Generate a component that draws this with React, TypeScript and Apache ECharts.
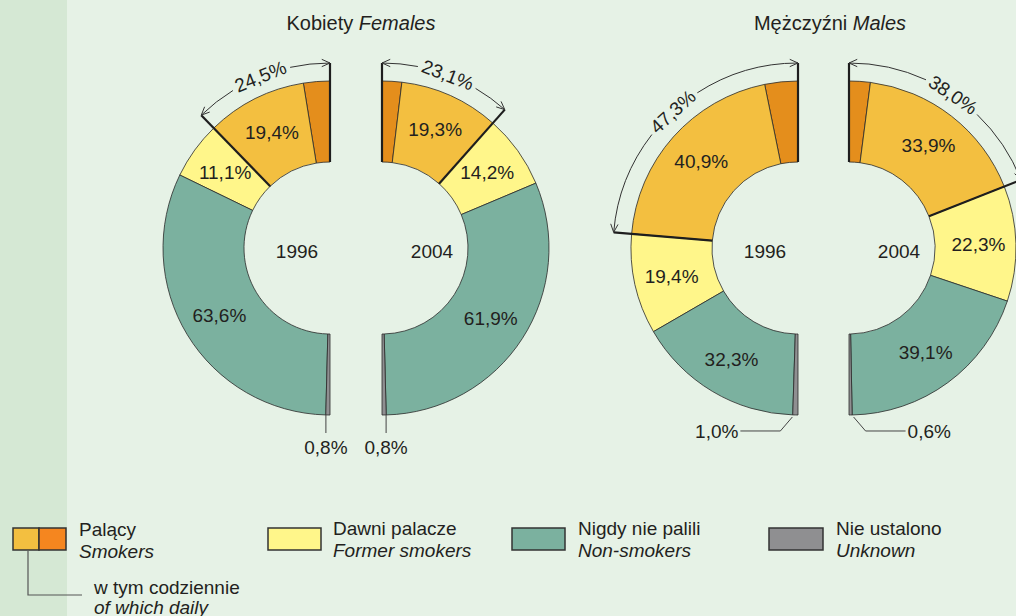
import React, { useEffect, useRef } from 'react';
import * as echarts from 'echarts';

// ---------- data ----------
const years = ['1996', '2004'];
const sliceNames = ['Palący okazjonalnie', 'Palący codziennie', 'Dawni palacze', 'Nigdy nie palili', 'Nie ustalono'];

// Kobiety / Females  [1996, 2004]
const femalesSmokers = [24.5, 23.1];
const femalesDaily = [19.4, 19.3];
const femalesFormer = [11.1, 14.2];
const femalesNever = [63.6, 61.9];
const femalesUnknown = [0.8, 0.8];

// Mężczyźni / Males  [1996, 2004]
const malesSmokers = [47.3, 38.0];
const malesDaily = [40.9, 33.9];
const malesFormer = [19.4, 22.3];
const malesNever = [32.3, 39.1];
const malesUnknown = [1.0, 0.6];

const femalesTitle = ['Kobiety', 'Females'];
const malesTitle = ['Mężczyźni', 'Males'];

const legendLabels = [
  ['Palący', 'Smokers'],
  ['Dawni palacze', 'Former smokers'],
  ['Nigdy nie palili', 'Non-smokers'],
  ['Nie ustalono', 'Unknown'],
];
const dailyNote = ['w tym codziennie', 'of which daily'];

// ---------- styles ----------
const FONT = '"Liberation Sans", Arial, Helvetica, sans-serif';
const TEXT = '#231f20';
const BG = '#e6f2e6';
const STRIP = '#d5e8d4';
const C_OCC = '#e48e1c';
const C_OCC_LEG = '#f5861f';
const C_DAILY = '#f3bf40';
const C_FORMER = '#fff68a';
const C_NEVER = '#7bb19f';
const C_UNKNOWN = '#8f8f91';
const EDGE = '#2a2a2a';

const CY = 248;
const R0 = 86;
const R1 = 167;
const RB = 185;

const fmt = (v: number) => v.toFixed(1).replace('.', ',') + '%';

function buildOption() {
  const series: any[] = [];
  const els: any[] = [];
  els.push({ type: 'rect', z: 0, silent: true, shape: { x: 0, y: 0, width: 67, height: 616 }, style: { fill: STRIP } });

  const groups = [
    { title: femalesTitle, smokers: femalesSmokers, daily: femalesDaily, former: femalesFormer, never: femalesNever, unknown: femalesUnknown, xs: [330, 382], titleX: 361, uStyle: 'down' },
    { title: malesTitle, smokers: malesSmokers, daily: malesDaily, former: malesFormer, never: malesNever, unknown: malesUnknown, xs: [798, 849], titleX: 830, uStyle: 'side' },
  ];

  groups.forEach((g) => {
    els.push({
      type: 'text', z: 100, x: g.titleX, y: 23,
      style: {
        text: `{n|${g.title[0]}} {i|${g.title[1]}}`,
        fontSize: 20, fontFamily: FONT, fill: TEXT, align: 'center', verticalAlign: 'middle',
        rich: {
          n: { fontSize: 20, fontFamily: FONT, fill: TEXT },
          i: { fontSize: 20, fontFamily: FONT, fill: TEXT, fontStyle: 'italic' },
        },
      },
    });

    [0, 1].forEach((yi) => {
      const side = yi === 0 ? -1 : 1;
      const cx = g.xs[yi];
      const occ = Math.round((g.smokers[yi] - g.daily[yi]) * 10) / 10;
      const vals = [occ, g.daily[yi], g.former[yi], g.never[yi], g.unknown[yi]];
      const total = vals.reduce((a, b) => a + b, 0);
      const colors = [C_OCC, C_DAILY, C_FORMER, C_NEVER, C_UNKNOWN];
      series.push({
        type: 'pie',
        center: [cx, CY],
        radius: [R0, R1],
        startAngle: 90,
        endAngle: side < 0 ? 270 : -90,
        clockwise: side > 0,
        avoidLabelOverlap: false,
        silent: true,
        animation: false,
        itemStyle: { borderColor: EDGE, borderWidth: 0.8 },
        label: {
          show: true, position: 'inside', fontSize: 19, fontFamily: FONT, color: TEXT,
          formatter: (p: any) => fmt(p.value),
        },
        labelLine: { show: false },
        emphasis: { disabled: true },
        data: vals.map((v, k) => ({
          name: sliceNames[k],
          value: v,
          itemStyle: { color: colors[k] },
          label: { show: k >= 1 && k <= 3 },
        })),
      });

      const pt = (frac: number, r: number) => {
        const a = frac * Math.PI;
        return [cx + side * r * Math.sin(a), CY - r * Math.cos(a)];
      };
      const sFrac = g.smokers[yi] / total;
      const A = sFrac * Math.PI;

      // thick edges of the smokers part
      const p0 = pt(0, R0), p1 = pt(0, RB);
      els.push({ type: 'line', z: 100, shape: { x1: p0[0], y1: p0[1], x2: p1[0], y2: p1[1] }, style: { stroke: '#1e1e1e', lineWidth: 2.2 } });
      const q0 = pt(sFrac, R0), q1 = pt(sFrac, RB);
      els.push({ type: 'line', z: 100, shape: { x1: q0[0], y1: q0[1], x2: q1[0], y2: q1[1] }, style: { stroke: '#1e1e1e', lineWidth: 2.2 } });

      // bracket arc with text gap
      const aMid = A / 2;
      const gap = 31 / RB;
      const phi = (a: number) => -Math.PI / 2 + side * a;
      const arcSeg = (aLo: number, aHi: number) => {
        const f1 = phi(aLo), f2 = phi(aHi);
        els.push({
          type: 'arc', z: 100,
          shape: { cx, cy: CY, r: RB, startAngle: Math.min(f1, f2), endAngle: Math.max(f1, f2), clockwise: true },
          style: { stroke: '#333', lineWidth: 1, fill: 'none' },
        });
      };
      arcSeg(0, aMid - gap);
      arcSeg(aMid + gap, A);

      // arrowheads
      const chevron = (a: number, sign: number) => {
        const tip = pt(a / Math.PI, RB);
        const dx = sign * side * Math.cos(a), dy = sign * Math.sin(a);
        const bx = -dx, by = -dy;
        const L = 9, w = (24 * Math.PI) / 180;
        const rot = (x: number, y: number, t: number) => [x * Math.cos(t) - y * Math.sin(t), x * Math.sin(t) + y * Math.cos(t)];
        const w1 = rot(bx, by, w), w2 = rot(bx, by, -w);
        els.push({
          type: 'polyline', z: 100,
          shape: { points: [[tip[0] + L * w1[0], tip[1] + L * w1[1]], tip, [tip[0] + L * w2[0], tip[1] + L * w2[1]]] },
          style: { stroke: '#333', lineWidth: 1, fill: 'none' },
        });
      };
      chevron(0, -1);
      chevron(A, 1);

      // bracket label
      const tp = pt(aMid / Math.PI, RB);
      els.push({
        type: 'text', z: 100, x: tp[0], y: tp[1], rotation: -side * aMid,
        style: { text: fmt(g.smokers[yi]), fontSize: 19, fontFamily: FONT, fill: TEXT, align: 'center', verticalAlign: 'middle' },
      });

      // year
      els.push({
        type: 'text', z: 100, x: cx + (side < 0 ? -33 : 50), y: 251,
        style: { text: years[yi], fontSize: 19, fontFamily: FONT, fill: TEXT, align: 'center', verticalAlign: 'middle' },
      });

      // unknown label with leader
      const uFrac = (total - g.unknown[yi] / 2) / total;
      const up = pt(uFrac, R1);
      if (g.uStyle === 'down') {
        const xs = up[0] + side * 2;
        els.push({ type: 'line', z: 100, shape: { x1: xs, y1: CY + R1, x2: xs, y2: CY + R1 + 18 }, style: { stroke: '#444', lineWidth: 1 } });
        els.push({
          type: 'text', z: 100, x: xs, y: CY + R1 + 32,
          style: { text: fmt(g.unknown[yi]), fontSize: 19, fontFamily: FONT, fill: TEXT, align: 'center', verticalAlign: 'middle' },
        });
      } else {
        const sx = up[0] + side * 3, sy = up[1] + 2;
        const mx = sx + side * 12, my = sy + 14;
        const ex = mx + side * 40;
        els.push({ type: 'polyline', z: 100, shape: { points: [[sx, sy], [mx, my], [ex, my]] }, style: { stroke: '#444', lineWidth: 1, fill: 'none' } });
        els.push({
          type: 'text', z: 100, x: ex + side * 2, y: my + 1,
          style: { text: fmt(g.unknown[yi]), fontSize: 19, fontFamily: FONT, fill: TEXT, align: side < 0 ? 'right' : 'left', verticalAlign: 'middle' },
        });
      }
    });
  });

  // ---------- legend ----------
  const box = (x: number, w: number, fill: string) =>
    els.push({ type: 'rect', z: 100, shape: { x, y: 528, width: w, height: 22 }, style: { fill, stroke: '#333', lineWidth: 1.5 } });
  const twoLine = (x: number, y: number, l1: string, l2: string, gapY = 22) => {
    els.push({ type: 'text', z: 100, x, y, style: { text: l1, fontSize: 19, fontFamily: FONT, fill: TEXT, align: 'left', verticalAlign: 'middle' } });
    els.push({ type: 'text', z: 100, x, y: y + gapY, style: { text: l2, fontSize: 19, fontFamily: FONT, fontStyle: 'italic', fill: TEXT, align: 'left', verticalAlign: 'middle' } });
  };
  box(13, 26, C_DAILY);
  box(39, 27, C_OCC_LEG);
  twoLine(79, 529, legendLabels[0][0], legendLabels[0][1]);
  els.push({ type: 'polyline', z: 100, shape: { points: [[28, 551], [28, 595], [82, 595]] }, style: { stroke: '#555', lineWidth: 1.2, fill: 'none' } });
  twoLine(94, 587, dailyNote[0], dailyNote[1], 20);
  box(268, 53, C_FORMER);
  twoLine(333, 528, legendLabels[1][0], legendLabels[1][1]);
  box(512, 53, C_NEVER);
  twoLine(578, 528, legendLabels[2][0], legendLabels[2][1]);
  box(769, 54, C_UNKNOWN);
  twoLine(836, 528, legendLabels[3][0], legendLabels[3][1]);

  return {
    animation: false,
    backgroundColor: BG,
    series,
    graphic: { elements: els },
  };
}

export default function App() {
  const ref = useRef<HTMLDivElement>(null);
  useEffect(() => {
    if (!ref.current) return;
    const chart = echarts.init(ref.current, undefined, { renderer: 'svg' });
    chart.setOption(buildOption() as any);
    return () => chart.dispose();
  }, []);
  return <div ref={ref} style={{ position: 'fixed', left: 0, top: 0, width: 1016, height: 616 }} />;
}
